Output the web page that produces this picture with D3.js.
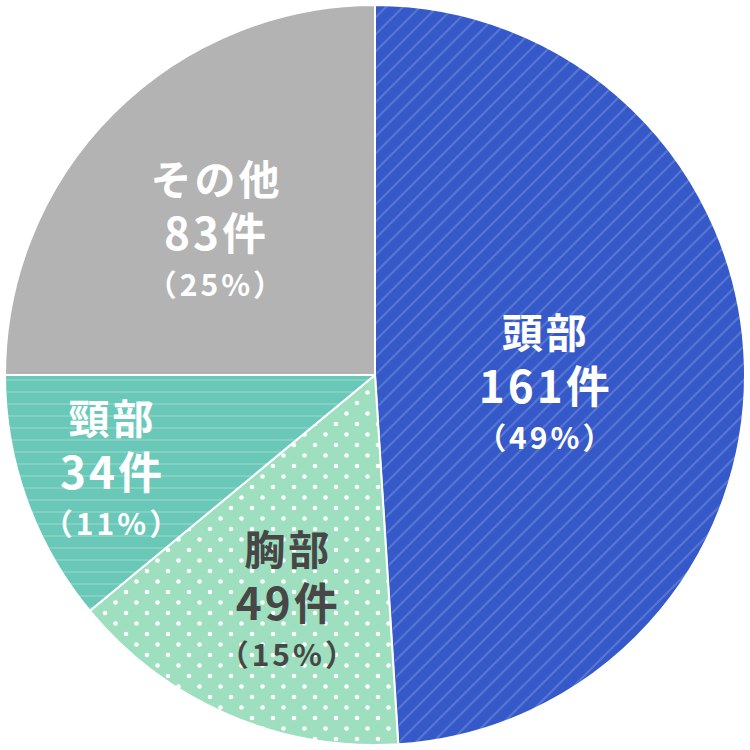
<!DOCTYPE html>
<html>
<head>
<meta charset="utf-8">
<script src="https://cdn.jsdelivr.net/npm/d3@7"></script>
<style>
  html, body { margin: 0; padding: 0; background: #ffffff; }
  svg { display: block; }
</style>
</head>
<body>
<svg id="chart" width="750" height="750"></svg>
<script>
// ---- data ----
const categories = ["頭部", "胸部", "頸部", "その他"];
const counts = [161, 49, 34, 83];
const percents = [49, 15, 11, 25];

// ---- layout / style ----
const W = 750, H = 750, cx = 375, cy = 375, R = 370;
const labelRadius = [171, 242, 279, 214];
const labelNudgeDeg = [4.8, -2.4, 0, -2.8];
const textColors = ["#ffffff", "#474747", "#ffffff", "#ffffff"];

const svg = d3.select("#chart");
const defs = svg.append("defs");

// blue diagonal stripes
const S = 17;
const pb = defs.append("pattern").attr("id", "pat-blue")
  .attr("patternUnits", "userSpaceOnUse").attr("width", S).attr("height", S);
pb.append("rect").attr("width", S).attr("height", S).attr("fill", "#3559C9");
pb.append("path").attr("d", `M-1,${S+1} L${S+1},-1 M-4,4 L4,-4 M${S-4},${S+4} L${S+4},${S-4}`)
  .attr("stroke", "#5674D2").attr("stroke-width", 2.2);

// green dots
const pg = defs.append("pattern").attr("id", "pat-green")
  .attr("patternUnits", "userSpaceOnUse").attr("width", 21).attr("height", 21)
  .attr("x", 3).attr("y", 7);
pg.append("rect").attr("width", 21).attr("height", 21).attr("fill", "#9DDFBF");
[[0,0],[21,0],[0,21],[21,21],[10.5,10.5]].forEach(([x,y]) =>
  pg.append("circle").attr("cx", x).attr("cy", y).attr("r", 2.3).attr("fill", "#ffffff"));

// teal horizontal stripes
const pt = defs.append("pattern").attr("id", "pat-teal")
  .attr("patternUnits", "userSpaceOnUse").attr("width", 12).attr("height", 12)
  .attr("y", 4);
pt.append("rect").attr("width", 12).attr("height", 12).attr("fill", "#69C8B8");
pt.append("rect").attr("y", 0).attr("width", 12).attr("height", 2).attr("fill", "#84D1C4");

const fills = ["url(#pat-blue)", "url(#pat-green)", "url(#pat-teal)", "#B3B3B3"];

const pie = d3.pie().sort(null).value(d => d.pct);
const data = categories.map((c, i) => ({ cat: c, count: counts[i], pct: percents[i], i }));
const arcs = pie(data);
const arc = d3.arc().innerRadius(0).outerRadius(R);

const g = svg.append("g").attr("transform", `translate(${cx},${cy})`);

g.selectAll("path.slice").data(arcs).enter().append("path")
  .attr("class", "slice")
  .attr("d", arc)
  .attr("fill", d => fills[d.data.i])
  .attr("stroke", "#ffffff")
  .attr("stroke-width", 2)
  .attr("stroke-linejoin", "round");

const font = "'Noto Sans CJK JP', 'Noto Sans', sans-serif";
const lg = g.selectAll("g.label").data(arcs).enter().append("g")
  .attr("class", "label")
  .attr("transform", d => {
    const a = (d.startAngle + d.endAngle) / 2 + labelNudgeDeg[d.data.i] * Math.PI / 180;
    const r = labelRadius[d.data.i];
    return `translate(${r * Math.sin(a)},${-r * Math.cos(a)})`;
  })
  .attr("fill", d => textColors[d.data.i])
  .attr("font-family", font)
  .attr("font-weight", 700)
  .attr("text-anchor", "middle")
  .attr("dominant-baseline", "central");

lg.append("text").attr("y", -54).attr("font-size", 41).attr("letter-spacing", 3)
  .text(d => d.data.cat);
lg.append("text").attr("y", 0).attr("font-size", 44).attr("letter-spacing", 3)
  .text(d => d.data.count + "件");
lg.append("text").attr("y", 52).attr("font-size", 30).attr("letter-spacing", 3)
  .text(d => "（" + d.data.pct + "%）");
</script>
</body>
</html>
